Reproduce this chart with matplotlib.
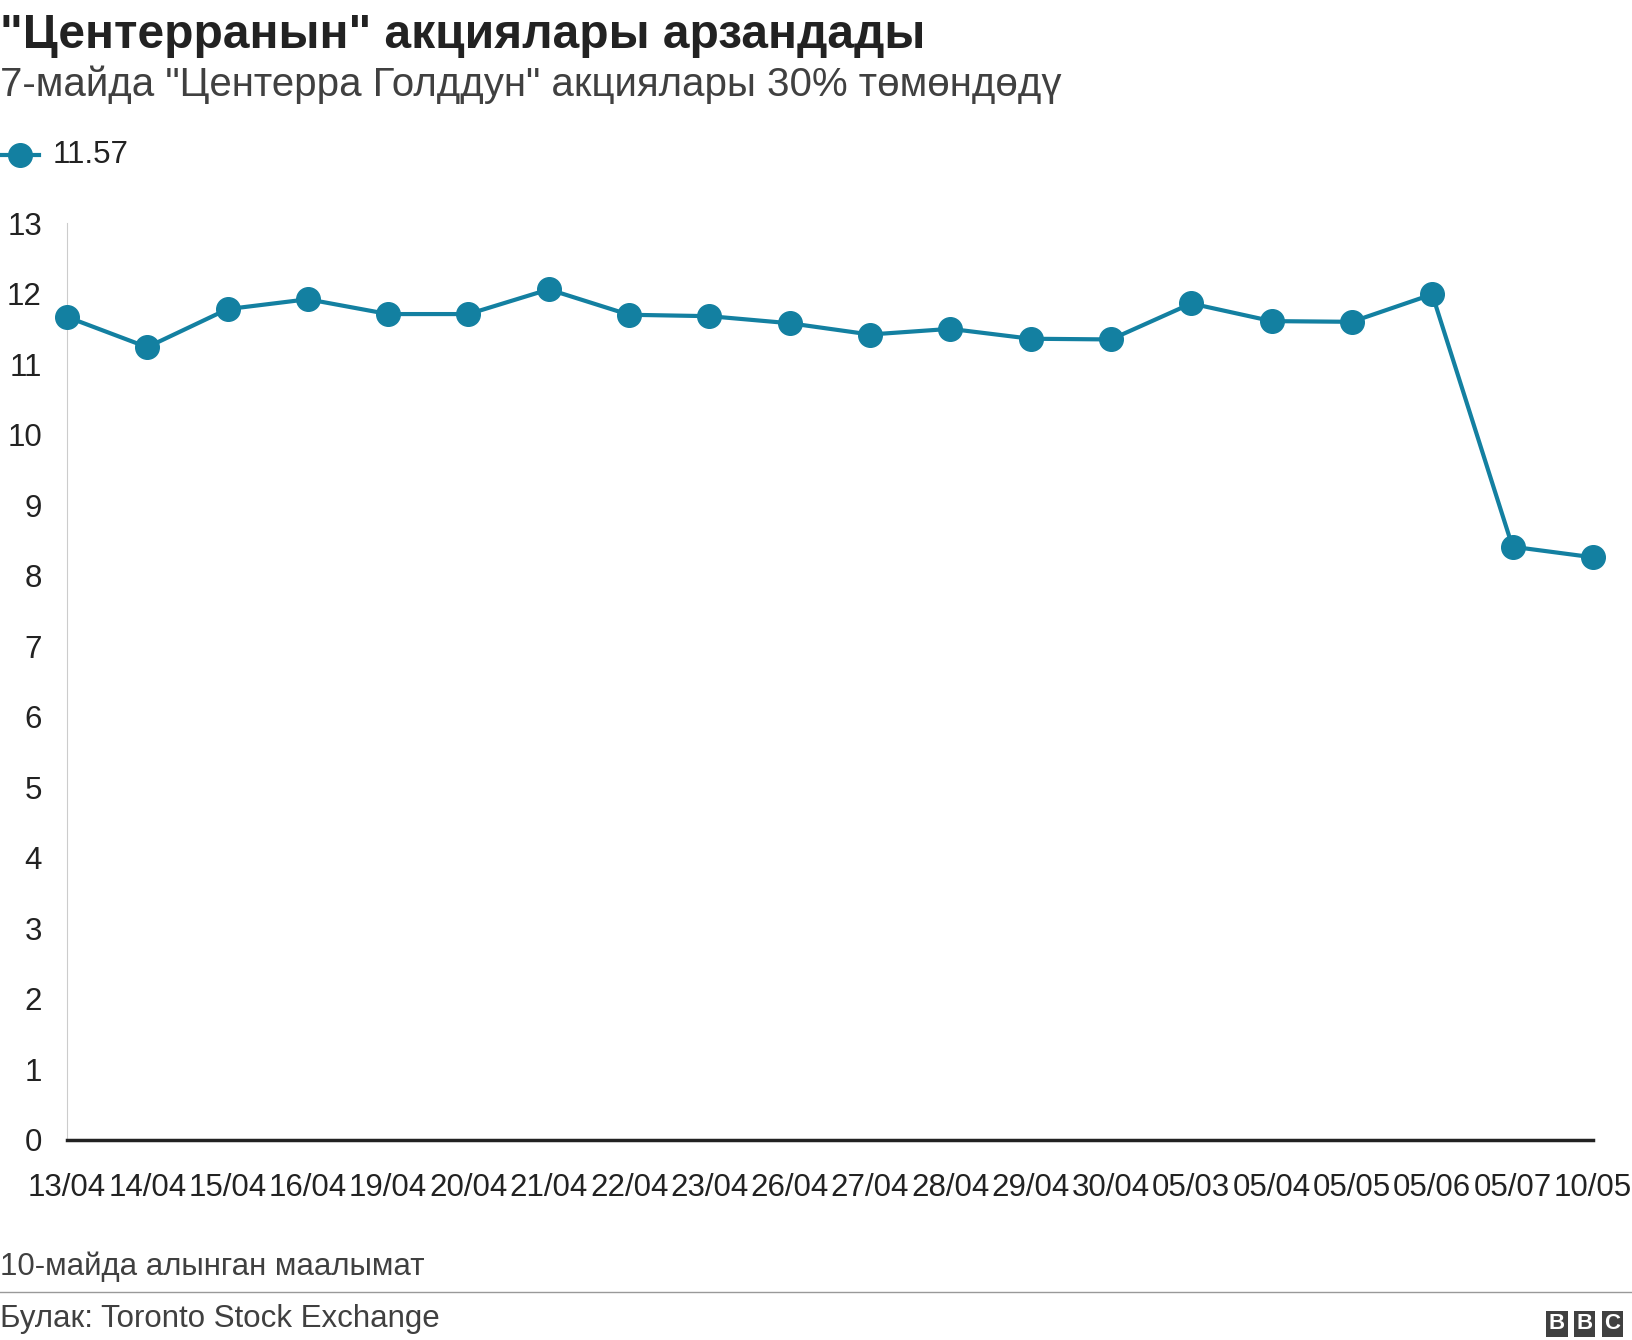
import matplotlib
matplotlib.use("Agg")
import matplotlib.pyplot as plt

plt.rcParams['font.family'] = ['Liberation Sans', 'DejaVu Sans']

dates = ["13/04","14/04","15/04","16/04","19/04","20/04","21/04","22/04","23/04","26/04",
         "27/04","28/04","29/04","30/04","05/03","05/04","05/05","05/06","05/07","10/05"]
values = [11.67,11.24,11.78,11.92,11.71,11.71,12.06,11.70,11.68,11.58,
          11.42,11.50,11.36,11.35,11.86,11.61,11.60,11.99,8.41,8.26]
yticks = list(range(0, 14))
color = "#1380A1"

fig = plt.figure(figsize=(16.32, 13.4), dpi=100)
ax = fig.add_axes([0.041, 0.1495, 0.935, 0.684])
x = list(range(len(dates)))
ax.plot(x, values, color=color, lw=3, marker='o', ms=17, zorder=3, clip_on=False)
ax.set_ylim(0, 13)
ax.set_xlim(0, len(dates)-1)
ax.set_yticks(yticks)
ax.set_xticks(x)
ax.set_xticklabels(dates)
ax.tick_params(axis='both', length=0, labelsize=22.5, colors='#222222')
ax.tick_params(axis='x', pad=24)
ax.tick_params(axis='y', pad=18)
for s in ['top', 'right']:
    ax.spines[s].set_visible(False)
ax.spines['left'].set_color('#cccccc')
ax.spines['bottom'].set_color('#222222')
ax.spines['bottom'].set_linewidth(2.5)

fig.text(0.0, 0.99, '"Центерранын" акциялары арзандады', fontsize=34.5, fontweight='bold', va='top', color='#222222')
fig.text(0.0, 0.951, '7-майда "Центерра Голддун" акциялары 30% төмөндөдү', fontsize=29, va='top', color='#404040')
fig.add_artist(plt.Line2D([0.0, 0.024], [0.884, 0.884], color=color, lw=3, transform=fig.transFigure))
fig.add_artist(plt.Line2D([0.012], [0.884], color=color, marker='o', ms=17, transform=fig.transFigure))
fig.text(0.032, 0.884, '11.57', fontsize=22.5, va='center', color='#222222')

fig.text(0.0, 0.055, '10-майда алынган маалымат', fontsize=22.5, va='center', color='#404040')
fig.add_artist(plt.Line2D([0.0, 1.0], [0.036, 0.036], color='#999999', lw=1, transform=fig.transFigure))
fig.text(0.0, 0.016, 'Булак: Toronto Stock Exchange', fontsize=22.5, va='center', color='#404040')
for i, ch in enumerate("BBC"):
    fig.text(0.954 + i*0.017, 0.012, ch, fontsize=16, fontweight='bold', color='white', va='center', ha='center',
             bbox=dict(boxstyle='square,pad=0.12', fc='#404040', ec='none'))
fig.savefig("out.png", dpi=100)
